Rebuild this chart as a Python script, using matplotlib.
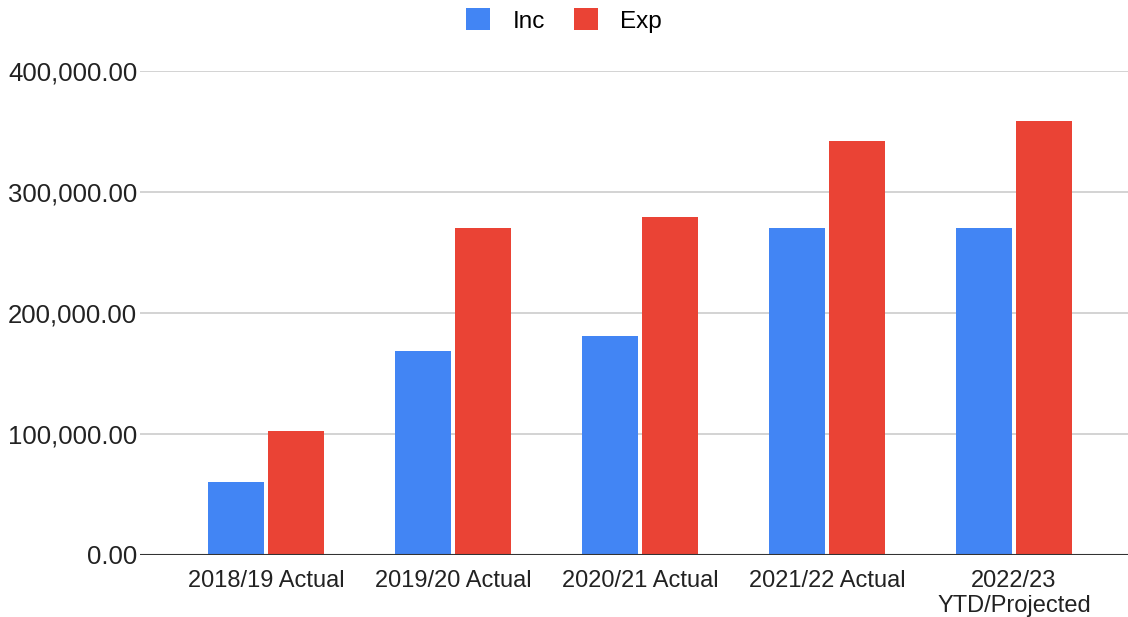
import numpy as np
import matplotlib.pyplot as plt
from matplotlib.ticker import FuncFormatter

plt.rcParams['font.family'] = ['Liberation Sans', 'DejaVu Sans']

# data
categories = ['2018/19 Actual', '2019/20 Actual', '2020/21 Actual',
              '2021/22 Actual', '2022/23\nYTD/Projected']
inc = [60000, 169000, 181000, 270500, 270500]
exp = [102700, 270500, 279000, 342000, 358700]

x = np.arange(len(categories))
w = 0.30
off = 0.16

fig = plt.figure(figsize=(11.28, 6.17), dpi=100)
ax = fig.add_axes([140 / 1128, 62 / 617, 988 / 1128, 484 / 617])

ax.bar(x - off, inc, w, color='#4285f4', label='Inc', zorder=3)
ax.bar(x + off, exp, w, color='#ea4335', label='Exp', zorder=3)

ax.set_ylim(0, 400000)
ax.set_xlim(-0.674, 4.61)
ax.set_yticks([0, 100000, 200000, 300000, 400000])
ax.yaxis.set_major_formatter(FuncFormatter(lambda v, p: f'{v:,.2f}'))
ax.grid(axis='y', color='#cccccc', linewidth=1.2, zorder=0)
ax.axhline(0, color='#333333', linewidth=1.5, zorder=4)

ax.set_xticks(x)
ax.set_xticklabels(categories, linespacing=1.15)
ax.tick_params(axis='both', length=0, colors='#222222')
ax.tick_params(axis='y', pad=2, labelsize=18.5)
ax.tick_params(axis='x', pad=11, labelsize=17)
for s in ax.spines.values():
    s.set_visible(False)

fig.legend(loc='upper center', bbox_to_anchor=(0.5, 1.022), ncol=2, frameon=False,
           fontsize=17.5, handlelength=1.0, handleheight=1.0, columnspacing=1.2,
           handletextpad=0.9)

plt.savefig('out.png', dpi=100)
